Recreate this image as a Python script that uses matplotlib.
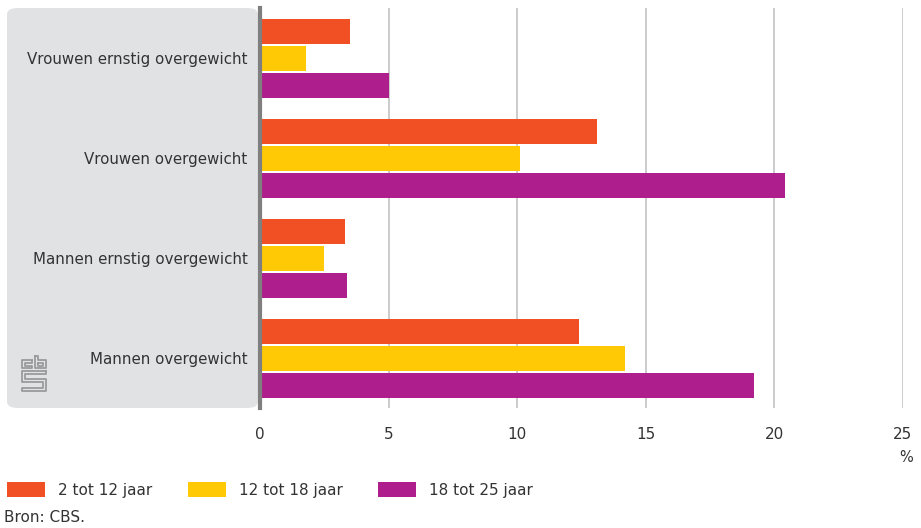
# overgewicht naar leeftijdsgroep en geslacht
import numpy as np
import matplotlib
matplotlib.use('Agg')
from matplotlib import pyplot as plt
from matplotlib.patches import FancyBboxPatch, Rectangle

categorieen = ['Vrouwen ernstig overgewicht', 'Vrouwen overgewicht',
               'Mannen ernstig overgewicht', 'Mannen overgewicht']
groep_2_12 = [3.5, 13.1, 3.3, 12.4]
groep_12_18 = [1.8, 10.1, 2.5, 14.2]
groep_18_25 = [5.0, 20.4, 3.4, 19.2]
reeksen = ['2 tot 12 jaar', '12 tot 18 jaar', '18 tot 25 jaar']
kleuren = ['#f15024', '#ffc906', '#ae1f8d']
xticks = [0, 5, 10, 15, 20, 25]

W, H = 921, 528
tekst = '#333333'
plt.rcParams['font.family'] = ['DejaVu Sans']


def fx(px):
    return px / W


def fy(py):
    return 1 - py / H


fig = plt.figure(figsize=(W / 100, H / 100), dpi=100)

# grijs paneel achter de labels
paneel = FancyBboxPatch((fx(7), fy(408)), fx(258) - fx(7), fy(8) - fy(408),
                        boxstyle='round,pad=0,rounding_size=0.012',
                        transform=fig.transFigure, facecolor='#e1e2e4',
                        edgecolor='none', zorder=-5)
fig.patches.append(paneel)

ax = fig.add_axes([fx(260), fy(408), fx(903) - fx(260), fy(8) - fy(408)])
ax.patch.set_alpha(0)
ax.set_zorder(2)

y = np.arange(len(categorieen))
hoogte = 0.25
stap = 0.27
for i, (waarden, kleur, naam) in enumerate(zip([groep_2_12, groep_12_18, groep_18_25], kleuren, reeksen)):
    ax.barh(y + (i - 1) * stap, waarden, height=hoogte, color=kleur, label=naam, zorder=3)

ax.set_ylim(3.5, -0.5)
ax.set_xlim(0, 25)
ax.set_yticks(y)
ax.set_yticklabels(categorieen, fontsize=10.8, color=tekst)
ax.set_xticks(xticks)
ax.set_xticklabels([str(t) for t in xticks], fontsize=11, color=tekst)
ax.tick_params(axis='both', length=0)
ax.tick_params(axis='y', pad=9)
ax.tick_params(axis='x', pad=14)
for s in ['top', 'right', 'bottom']:
    ax.spines[s].set_visible(False)
ax.spines['left'].set_color('#7f7f80')
ax.spines['left'].set_linewidth(3)
ax.spines['left'].set_zorder(4)
for t in xticks[1:]:
    ax.axvline(t, color='#bdbdbd', linewidth=1.1, zorder=1)

fig.text(fx(913), fy(458), '%', ha='right', va='center', fontsize=10.5, color=tekst)

# legenda
leg_x = [7, 188, 378]
for lx, kleur, naam in zip(leg_x, kleuren, reeksen):
    fig.patches.append(Rectangle((fx(lx), fy(497)), fx(38), fy(482) - fy(497),
                                 transform=fig.transFigure, facecolor=kleur, edgecolor='none'))
    fig.text(fx(lx + 51), fy(490), naam, ha='left', va='center', fontsize=11, color=tekst)
fig.text(fx(4), fy(517), 'Bron: CBS.', ha='left', va='center', fontsize=11, color=tekst)

# eenvoudig cbs-logo
lc = '#9a9a9c'
lw = 1.3
logo = [
    # c
    [(32, 360), (22, 360), (22, 368), (32, 368), (32, 365.5), (25, 365.5), (25, 362.5), (32, 362.5), (32, 360)],
    # b
    [(35, 356), (35, 368), (46, 368), (46, 360), (38, 360), (38, 356), (35, 356)],
    [(38, 362.5), (43, 362.5), (43, 365.5), (38, 365.5), (38, 362.5)],
    # s
    [(46, 371), (22, 371), (22, 382), (43, 382), (43, 388), (22, 388), (22, 391), (46, 391),
     (46, 379), (25, 379), (25, 374), (46, 374), (46, 371)],
]
for lijn in logo:
    xs = [fx(p[0]) for p in lijn]
    ys = [fy(p[1]) for p in lijn]
    fig.add_artist(plt.Line2D(xs, ys, color=lc, linewidth=lw, transform=fig.transFigure))

fig.savefig('out.png', dpi=100)
